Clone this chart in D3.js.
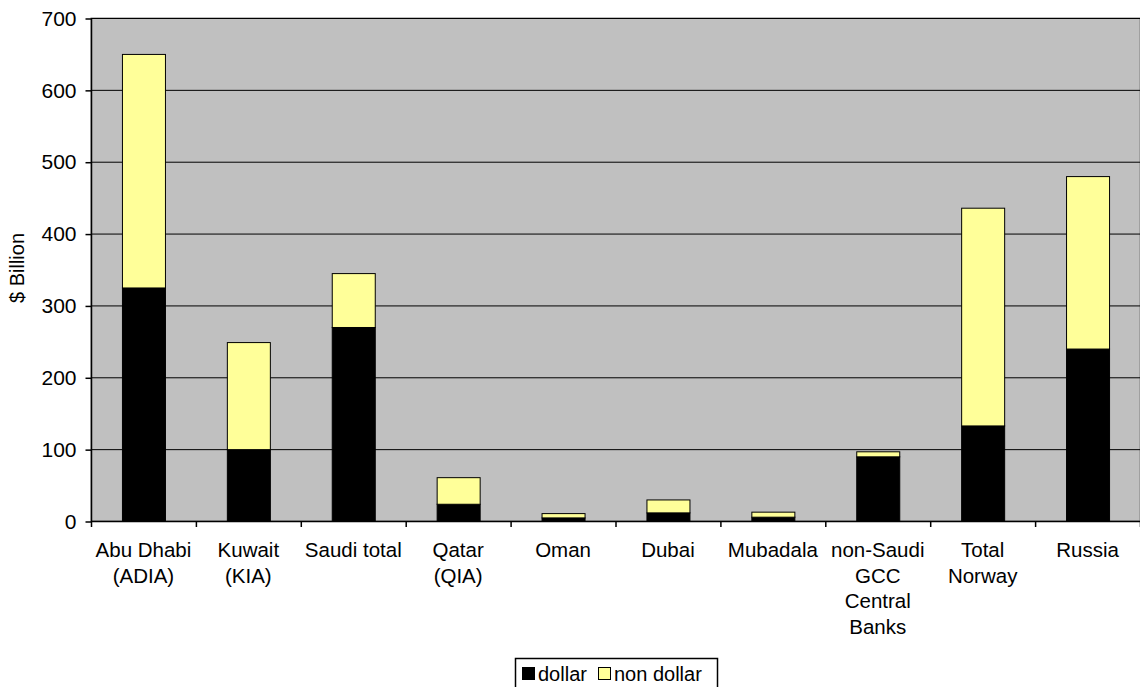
<!DOCTYPE html>
<html lang="en">
<head>
<meta charset="UTF-8">
<title>Sovereign holdings</title>
<script src="https://d3js.org/d3.v7.min.js"></script>
<style>
    body { margin: 0; background: #fff; font-family: Arial, "Liberation Sans", sans-serif; }
    svg { display: block; }
    .tick text { font-size: 21px; fill: #000; }
</style>
</head>
<body>
<svg id="chart" width="1140" height="687"></svg>
<script>
    // categories (each line of the label is a separate entry)
    const categories = [
        ["Abu Dhabi", "(ADIA)"], ["Kuwait", "(KIA)"], ["Saudi total"], ["Qatar", "(QIA)"],
        ["Oman"], ["Dubai"], ["Mubadala"], ["non-Saudi", "GCC", "Central", "Banks"],
        ["Total", "Norway"], ["Russia"]
    ];
    const dollar    = [325, 100, 270, 24, 5, 12, 6, 90, 133, 240];
    const nonDollar = [325, 149, 75, 37, 6, 18, 7, 7, 303, 240];
    const yTicks = [0, 100, 200, 300, 400, 500, 600, 700];

    const svg = d3.select("#chart");
    const plotL = 91, plotR = 1140, plotT = 18, plotB = 521;

    const x = d3.scaleBand().domain(d3.range(categories.length)).range([plotL, plotR]).paddingInner(0.59).paddingOuter(0.295);
    const xOuter = d3.scaleBand().domain(d3.range(categories.length)).range([plotL, plotR]);
    const y = d3.scaleLinear().domain([0, 700]).range([plotB, plotT]);

    // plot background
    svg.append("rect").attr("x", plotL).attr("y", plotT).attr("width", plotR - plotL).attr("height", plotB - plotT)
        .attr("fill", "#c0c0c0").attr("stroke", "#808080").attr("stroke-width", 1);

    // gridlines
    svg.append("g").selectAll("line").data(yTicks.slice(1)).join("line")
        .attr("x1", plotL).attr("x2", plotR).attr("y1", d => y(d) + 0.5).attr("y2", d => y(d) + 0.5)
        .attr("stroke", "#000").attr("stroke-width", 1);

    // stacked bars
    const stack = d3.stack().keys(["dollar", "nonDollar"])(categories.map((c, i) => ({ dollar: dollar[i], nonDollar: nonDollar[i] })));
    const colors = { dollar: "#000000", nonDollar: "#ffff99" };
    stack.forEach(layer => {
        svg.append("g").selectAll("rect").data(layer).join("rect")
            .attr("x", (d, i) => x(i) + 0.5)
            .attr("width", x.bandwidth())
            .attr("y", d => y(d[1]) + 0.5)
            .attr("height", d => y(d[0]) - y(d[1]))
            .attr("fill", colors[layer.key])
            .attr("stroke", "#000").attr("stroke-width", 1);
    });

    // y axis
    const yAxis = svg.append("g").attr("transform", `translate(${plotL + 0.5},0.5)`)
        .call(d3.axisLeft(y).tickValues(yTicks).tickSize(6).tickPadding(9).tickFormat(d3.format("d")));
    yAxis.selectAll("path, line").attr("stroke", "#000").attr("stroke-width", 1.5);
    yAxis.select(".domain").attr("d", `M0,${plotT}V${plotB}`);
    yAxis.selectAll("text").attr("font-family", "Arial, 'Liberation Sans', sans-serif");

    // x axis line and ticks between categories
    const xg = svg.append("g");
    xg.append("line").attr("x1", plotL).attr("x2", plotR).attr("y1", plotB + 0.5).attr("y2", plotB + 0.5)
        .attr("stroke", "#000").attr("stroke-width", 1.5);
    xg.selectAll("line.t").data(d3.range(categories.length + 1)).join("line").attr("class", "t")
        .attr("x1", i => plotL + i * xOuter.step() + 0.5).attr("x2", i => plotL + i * xOuter.step() + 0.5)
        .attr("y1", plotB).attr("y2", plotB + 6).attr("stroke", "#000").attr("stroke-width", 1.5);

    // category labels
    const labels = svg.append("g").selectAll("text").data(categories).join("text")
        .attr("x", (d, i) => xOuter(i) + xOuter.bandwidth() / 2)
        .attr("y", 557)
        .attr("text-anchor", "middle")
        .attr("font-size", 20.5).attr("fill", "#000");
    labels.selectAll("tspan").data(d => d).join("tspan")
        .attr("x", function () { return this.parentNode.getAttribute("x"); })
        .attr("dy", (d, i) => i === 0 ? 0 : 25.5)
        .text(d => d);

    // y axis title
    svg.append("text").attr("transform", "translate(24,268) rotate(-90)")
        .attr("text-anchor", "middle").attr("font-size", 20).attr("fill", "#000").text("$ Billion");

    // legend
    const lg = svg.append("g").attr("transform", "translate(515,658)");
    lg.append("rect").attr("x", 0.5).attr("y", 0.5).attr("width", 202).attr("height", 32)
        .attr("fill", "#fff").attr("stroke", "#000").attr("stroke-width", 1.5);
    const items = [{ name: "dollar", key: "dollar", x: 7 }, { name: "non dollar", key: "nonDollar", x: 83 }];
    items.forEach(it => {
        lg.append("rect").attr("x", it.x + 0.5).attr("y", 9.5).attr("width", 12).attr("height", 12)
            .attr("fill", colors[it.key]).attr("stroke", "#000");
        lg.append("text").attr("x", it.x + 16).attr("y", 23).attr("font-size", 20).attr("fill", "#000").text(it.name);
    });
</script>
</body>
</html>
